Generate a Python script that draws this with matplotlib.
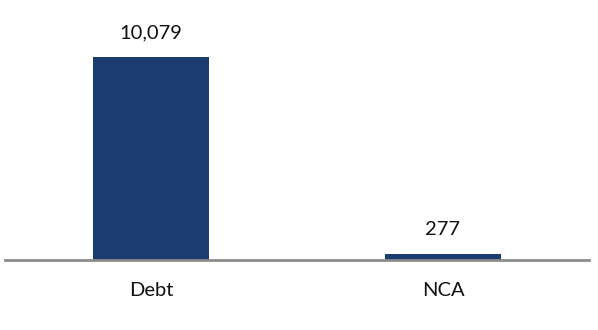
import matplotlib
matplotlib.use('Agg')
import matplotlib.pyplot as plt

categories = ['Debt', 'NCA']
values = [10079, 277]
value_labels = ['10,079', '277']

plt.rcParams['font.family'] = ['Lato', 'DejaVu Sans']

fig = plt.figure(figsize=(5.98, 3.30), dpi=100)
ax = fig.add_axes([5 / 598, 70 / 330, 584 / 598, 250 / 330])

x = list(range(len(categories)))
ax.bar(x, values, width=0.4, color='#1b3c6e')

for xi, v, lab in zip(x, values, value_labels):
    ax.annotate(lab, (xi, v), xytext=(0, 16), textcoords='offset pixels',
                ha='center', va='bottom', fontsize=14.5, color='#111111')

ax.set_xlim(-0.5, 1.5)
ax.set_ylim(0, 10079 * 250 / 203)

for s in ['top', 'right', 'left']:
    ax.spines[s].set_visible(False)
ax.spines['bottom'].set_color('#8c8c8c')
ax.spines['bottom'].set_linewidth(2)
ax.set_yticks([])
ax.set_xticks(x)
ax.set_xticklabels(categories, fontsize=14.5, color='#111111')
ax.tick_params(axis='x', length=0, pad=16)

fig.savefig('out.png', dpi=100)
